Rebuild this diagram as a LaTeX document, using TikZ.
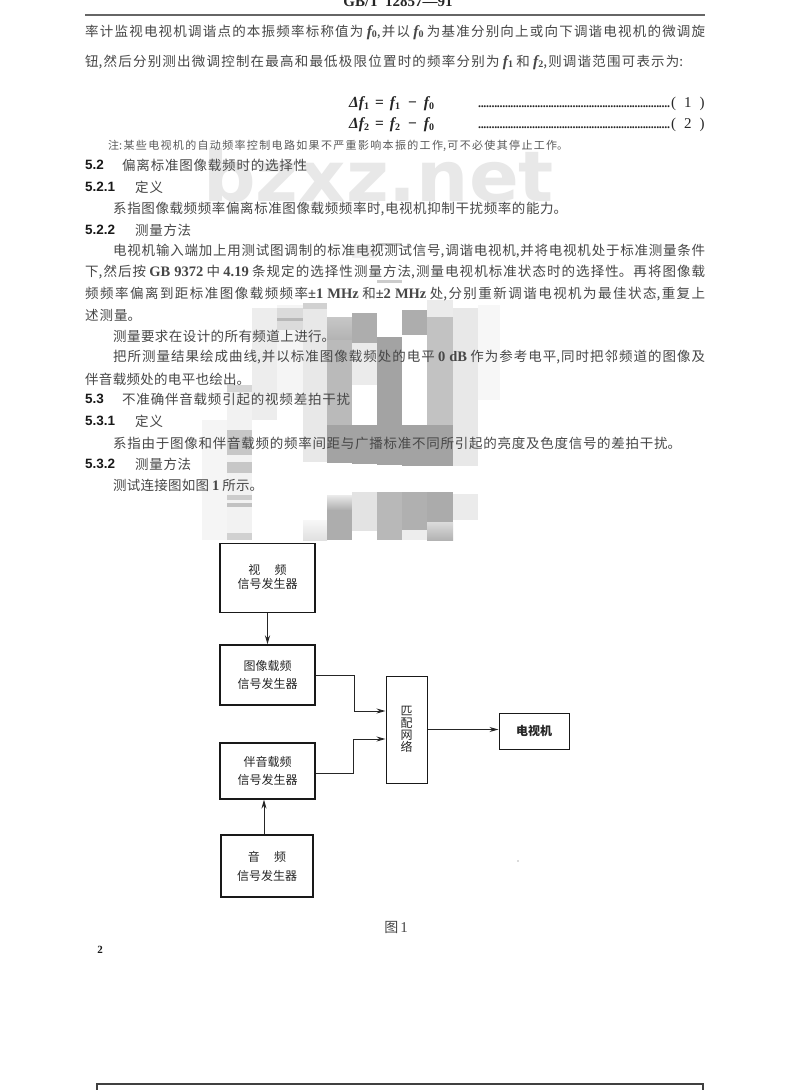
\documentclass[tikz,border=0pt]{standalone}
\usepackage{fontspec}
\setmainfont{Noto Sans CJK SC}
\newfontfamily\lat{Liberation Serif}
\newfontfamily\latsans{Liberation Sans}
\newfontfamily\wmfont{DejaVu Sans}
\usetikzlibrary{arrows.meta,calc}
\XeTeXlinebreaklocale "zh"
\XeTeXlinebreakskip=0pt plus 6pt minus 0.2pt
\newcommand{\bodyfont}{\fontsize{13.5}{15}\selectfont}
\newcommand{\fsub}[1]{{\lat\bfseries\itshape\fontsize{15.5}{16}\selectfont f}\raisebox{-1.8pt}{\lat\bfseries\fontsize{10}{10}\selectfont #1}}
\newcommand{\lb}[1]{{\lat\bfseries\fontsize{14.5}{15}\selectfont #1}}
\newcommand{\tline}[5]{\node[anchor=west,inner sep=0pt,text=black!72] (#1) at (#2,#3) {\parbox[c]{#4pt}{\bodyfont\noindent\parfillskip=0pt\tolerance=9999\hbadness=10000\emergencystretch=30pt #5\par}};}
\newcommand{\secn}[3]{\node[anchor=west,inner sep=0pt,text=black!90] (#1) at (85,#2) {\latsans\bfseries\fontsize{13.5}{15}\selectfont #3};}
\newcommand{\mos}[5]{\fill[black!#5] (#1,#2) rectangle (#3,#4);}
\newcommand{\mosg}[6]{\shade[top color=black!#5,bottom color=black!#6,draw=none] (#1,#2) rectangle (#3,#4);}
\newcommand{\eqline}[1]{\lat\bfseries\fontsize{15.5}{16}\selectfont {\itshape Δ}\fsub{#1}\hspace{6pt}=\hspace{6pt}\fsub{#1}\hspace{8pt}−\hspace{7pt}\fsub{0}}
\newcommand{\dotline}[1]{\hbox to 193pt{\fontsize{12}{12}\selectfont\lat\bfseries\leaders\hbox to 2.7pt{\hss.\hss}\hfill}{\lat\fontsize{15}{16}\selectfont(\hspace{8pt}#1\hspace{8pt})}}
\tikzset{
  x=1pt,y=-1pt,
  blockbox/.style={draw=black!90,line width=1.2pt,minimum width=95pt,minimum height=60pt,inner sep=0pt,align=center,text=black!85},
  wire/.style={draw=black!85,line width=1pt,-{Stealth[length=9pt,width=5pt]}}
}
\begin{document}
\begin{tikzpicture}
\useasboundingbox (0,0) rectangle (800,1090);
\fill[white] (0,0) rectangle (800,1090);
% background mosaic
\mos{202}{420}{227}{540}{4}
\mos{227}{385}{252}{540}{5}
\mos{227}{385}{252}{392}{16}
\mos{227}{430}{252}{455}{22}
\mos{227}{462}{252}{473}{22}
\mos{227}{495}{252}{500}{20}
\mos{227}{503}{252}{507}{24}
\mos{227}{533}{252}{540}{18}
\mos{252}{308}{277}{420}{7}
\mos{277}{305}{303}{395}{4}
\mos{277}{308}{303}{330}{14}
\mos{277}{318}{303}{321}{28}
\mos{303}{303}{327}{462}{9}
\mos{303}{303}{327}{309}{18}
\mosg{303}{520}{327}{540}{3}{12}
\mosg{327}{317}{352}{340}{22}{30}
\mos{327}{340}{352}{425}{27}
\mos{327}{425}{352}{463}{36}
\mosg{327}{495}{352}{510}{8}{32}
\mos{327}{510}{352}{540}{32}
\mos{352}{313}{377}{343}{32}
\mos{352}{343}{377}{385}{8}
\mos{352}{425}{377}{464}{36}
\mos{352}{492}{377}{531}{11}
\mos{352}{244}{377}{258}{6}
\mos{377}{337}{402}{465}{36}
\mos{377}{243}{402}{246}{22}
\mos{377}{280}{402}{283}{20}
\mos{377}{492}{402}{540}{28}
\mos{402}{310}{427}{335}{32}
\mos{402}{425}{427}{466}{36}
\mos{402}{492}{427}{530}{31}
\mos{402}{530}{427}{540}{7}
\mos{427}{317}{453}{425}{24}
\mos{427}{425}{453}{466}{36}
\mos{427}{300}{453}{317}{8}
\mos{427}{492}{453}{522}{33}
\mosg{427}{522}{453}{540}{14}{30}
\mos{453}{308}{478}{466}{9}
\mos{453}{494}{478}{520}{8}
\mos{478}{305}{500}{400}{3}
% watermark
\node[anchor=base west,inner sep=0pt,text=black!9,xscale=1.05] (wm) at (203,201) {\wmfont\bfseries\fontsize{70}{76}\selectfont bzxz.net};
% header
\node[inner sep=0pt,text=black!85] (hd) at (398,1.5) {\lat\bfseries\fontsize{15}{16}\selectfont GB/T\hspace{6pt}12857—91};
\draw[black!60,line width=1.4pt] (85,15) coordinate (hl) -- (705,15) coordinate (hr);
% body
\tline{l1}{85}{32}{620}{率计监视电视机调谐点的本振频率标称值为 \fsub{0},并以 \fsub{0} 为基准分别向上或向下调谐电视机的微调旋}
\tline{l2}{85}{62}{598}{钮,然后分别测出微调控制在最高和最低极限位置时的频率分别为 \fsub{1} 和 \fsub{2},则调谐范围可表示为:}
\node[anchor=west,inner sep=0pt,text=black!85] (e1) at (349,104) {\eqline{1}};
\node[anchor=west,inner sep=0pt,text=black!85] (e2) at (349,125) {\eqline{2}};
\node[anchor=west,inner sep=0pt,text=black!85] (d1) at (478,104) {\dotline{1}};
\node[anchor=west,inner sep=0pt,text=black!85] (d2) at (478,125) {\dotline{2}};
\node[anchor=west,inner sep=0pt,text=black!65] (n1) at (108,146) {\parbox[c]{460pt}{\fontsize{11}{12}\selectfont\noindent\parfillskip=0pt\tolerance=9999\hbadness=10000 注:某些电视机的自动频率控制电路如果不严重影响本振的工作,可不必使其停止工作。\par}};
\secn{s52}{165}{5.2}
\tline{s52t}{122}{165}{185}{偏离标准图像载频时的选择性}
\secn{s521}{187}{5.2.1}
\tline{s521t}{135}{187}{28}{定义}
\tline{p1}{113}{209}{454}{系指图像载频频率偏离标准图像载频频率时,电视机抑制干扰频率的能力。}
\secn{s522}{230}{5.2.2}
\tline{s522t}{135}{230}{56}{测量方法}
\tline{p2}{113}{251}{592}{电视机输入端加上用测试图调制的标准电视测试信号,调谐电视机,并将电视机处于标准测量条件}
\tline{p3}{85}{272}{620}{下,然后按 \lb{GB 9372} 中 \lb{4.19} 条规定的选择性测量方法,测量电视机标准状态时的选择性。再将图像载}
\tline{p4}{85}{294}{620}{频频率偏离到距标准图像载频频率\lb{±1 MHz} 和\lb{±2 MHz} 处,分别重新调谐电视机为最佳状态,重复上}
\tline{p5}{85}{315}{56}{述测量。}
\tline{p6}{113}{336}{222}{测量要求在设计的所有频道上进行。}
\tline{p7}{113}{357}{592}{把所测量结果绘成曲线,并以标准图像载频处的电平 \lb{0 dB} 作为参考电平,同时把邻频道的图像及}
\tline{p8}{85}{379}{165}{伴音载频处的电平也绘出。}
\secn{s53}{399}{5.3}
\tline{s53t}{122}{399}{228}{不准确伴音载频引起的视频差拍干扰}
\secn{s531}{421}{5.3.1}
\tline{s531t}{135}{421}{28}{定义}
\tline{p9}{113}{443}{568}{系指由于图像和伴音载频的频率间距与广播标准不同所引起的亮度及色度信号的差拍干扰。}
\secn{s532}{464}{5.3.2}
\tline{s532t}{135}{464}{56}{测量方法}
\tline{p10}{113}{485}{150}{测试连接图如图 \lb{1} 所示。}
% blocks
\node[blockbox,minimum height=69pt,font=\fontsize{12}{14}\selectfont] (b1) at (267.5,578) {\rule{0pt}{4pt}\\[-10pt]视\hspace{1.2em}频\\信号发生器};
\node[blockbox,font=\fontsize{12}{18}\selectfont] (b2) at (267.5,675) {图像载频\\信号发生器};
\node[blockbox,minimum height=56pt,font=\fontsize{12}{18}\selectfont] (b3) at (267.5,771) {伴音载频\\信号发生器};
\node[blockbox,minimum width=92pt,minimum height=62pt,font=\fontsize{12}{19}\selectfont] (b4) at (267,866) {音\hspace{1.2em}频\\信号发生器};
\node[blockbox,minimum width=41pt,minimum height=107pt,line width=1pt,font=\fontsize{12}{12}\selectfont] (mn) at (406.5,729.5) {匹\\配\\网\\络};
\node[blockbox,minimum width=70pt,minimum height=36pt,line width=1pt,font=\bfseries\fontsize{12}{14}\selectfont] (tv) at (534,731) {电视机};
% connectors
\draw[wire,line width=1.7pt] (b1.south) -- (b2.north);
\draw[wire] (b2.east) -- ++(39,0) |- ([yshift=18.5pt]mn.west);
\draw[wire] ([yshift=-2pt]b3.east) -- ++(38,0) |- ([yshift=-9.5pt]mn.west);
\draw[wire] (mn.east) -- (tv.west |- mn.east);
\draw[wire] ([xshift=-3pt]b4.north) -- ([xshift=-3.5pt]b3.south);
% caption and page furniture
\node[inner sep=0pt,text=black!72] (fig) at (396,927) {\fontsize{14}{15}\selectfont 图\hspace{2pt}{\lat\fontsize{15}{15}\selectfont 1}};
\node[inner sep=0pt,text=black!90] (pg) at (100,950) {\lat\bfseries\fontsize{11}{13}\selectfont 2};
\fill[black!60] (518,861) circle (0.7pt);
\draw[black!75,line width=1.3pt] (97,1090) -- (97,1084) -- (703,1084) -- (703,1090);
\end{tikzpicture}
\end{document}
